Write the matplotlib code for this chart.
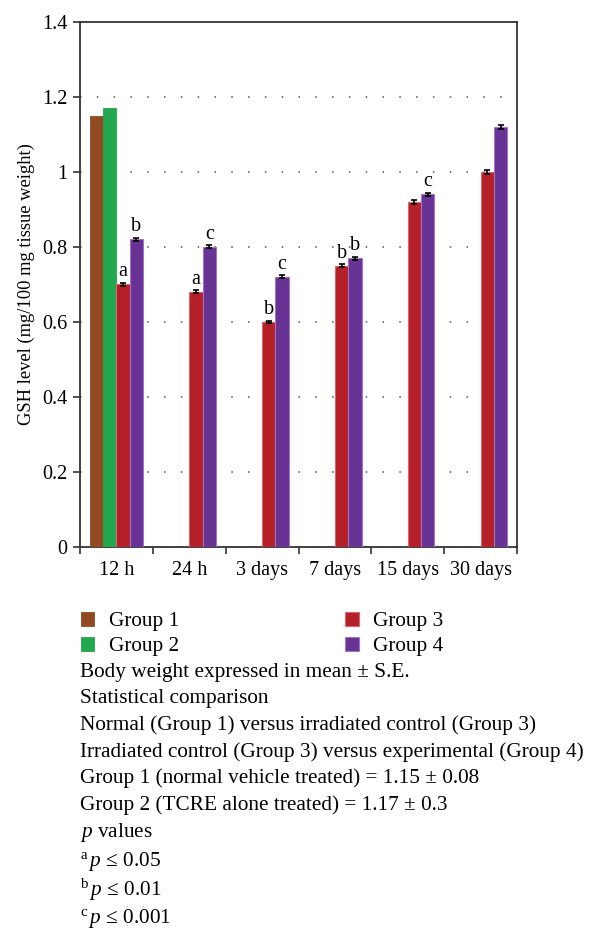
import numpy as np
import matplotlib
matplotlib.use("Agg")
import matplotlib.pyplot as plt

plt.rcParams['font.family'] = ['Liberation Serif', 'DejaVu Serif']
plt.rcParams['mathtext.fontset'] = 'custom'
plt.rcParams['mathtext.rm'] = 'Liberation Serif'
plt.rcParams['mathtext.it'] = 'Liberation Serif:italic'

# data
times = ['12 h', '24 h', '3 days', '7 days', '15 days', '30 days']
group1 = [1.15]          # only 12 h
group2 = [1.17]          # only 12 h
group3 = [0.70, 0.68, 0.60, 0.75, 0.92, 1.00]
group4 = [0.82, 0.80, 0.72, 0.77, 0.94, 1.12]
group3_se = [0.004, 0.004, 0.003, 0.004, 0.005, 0.005]
group4_se = [0.005, 0.004, 0.004, 0.004, 0.005, 0.006]
sig3 = ['a', 'a', 'b', 'b', '', '']
sig4 = ['b', 'c', 'c', 'b', 'c', '']

colors = ['#914A22', '#22A84E', '#B51F28', '#693295']
edges = ['#914A22', '#22A84E', '#D9666C', '#9C78C2']
labels = ['Group 1', 'Group 2', 'Group 3', 'Group 4']

W, H = 592, 930
fig = plt.figure(figsize=(W / 100, H / 100), dpi=100)
ax = fig.add_axes([80 / W, 1 - 547 / H, (517 - 80) / W, (547 - 22) / H])

x = np.arange(len(times))
w = 0.1826
b1 = ax.bar(x[:1] - 1.5 * w, group1, w, color=colors[0], edgecolor=edges[0], lw=0.6, zorder=3)
b2 = ax.bar(x[:1] - 0.5 * w, group2, w, color=colors[1], edgecolor=edges[1], lw=0.6, zorder=3)
b3 = ax.bar(x + 0.5 * w, group3, w, color=colors[2], edgecolor=edges[2], lw=0.8, zorder=3)
b4 = ax.bar(x + 1.5 * w, group4, w, color=colors[3], edgecolor=edges[3], lw=0.8, zorder=3)
ax.errorbar(x + 0.5 * w, group3, yerr=group3_se, fmt='none', ecolor='black',
            elinewidth=1.2, capsize=2.5, capthick=1.2, zorder=4)
ax.errorbar(x + 1.5 * w, group4, yerr=group4_se, fmt='none', ecolor='black',
            elinewidth=1.2, capsize=2.5, capthick=1.2, zorder=4)

for i in range(len(times)):
    if sig3[i]:
        ax.text(x[i] + 0.5 * w, group3[i] + group3_se[i] + 0.004, sig3[i],
                ha='center', va='bottom', fontsize=14.5)
    if sig4[i]:
        ax.text(x[i] + 1.5 * w, group4[i] + group4_se[i] + 0.004, sig4[i],
                ha='center', va='bottom', fontsize=14.5)

ax.set_xlim(-0.5, len(times) - 0.5)
ax.set_ylim(0, 1.4)
yt = [0, 0.2, 0.4, 0.6, 0.8, 1.0, 1.2, 1.4]
ax.set_yticks(yt)
ax.set_yticklabels(['0', '0.2', '0.4', '0.6', '0.8', '1', '1.2', '1.4'], fontsize=14.5)
ax.set_xticks(x)
ax.set_xticklabels(times, fontsize=14.5)
ax.set_xticks(np.arange(len(times) + 1) - 0.5, minor=True)
ax.tick_params(axis='x', which='major', length=0, pad=10)
ax.tick_params(axis='x', which='minor', length=5, width=1.2, direction='out', color='#333333')
ax.tick_params(axis='y', length=5, width=1.2, direction='out', color='#333333', pad=4)
ax.yaxis.grid(True, linestyle=(0, (1, 10)), color='#555555', lw=1.1, zorder=0)
for s in ax.spines.values():
    s.set_color('#333333')
    s.set_linewidth(1.3)
ax.set_ylabel('GSH level (mg/100 mg tissue weight)', fontsize=13.3, labelpad=5)

fig.legend([b1, b2, b3, b4], labels, ncol=2, loc='upper left',
           bbox_to_anchor=(72 / W, 1 - 603 / H), frameon=False, fontsize=15.3,
           handlelength=0.64, handleheight=0.64, handletextpad=0.7,
           columnspacing=7.8, labelspacing=0.26, borderaxespad=0)

lines = [
    'Body weight expressed in mean \u00b1 S.E.',
    'Statistical comparison',
    'Normal (Group 1) versus irradiated control (Group 3)',
    'Irradiated control (Group 3) versus experimental (Group 4)',
    'Group 1 (normal vehicle treated) = 1.15 \u00b1 0.08',
    'Group 2 (TCRE alone treated) = 1.17 \u00b1 0.3',
    r'$\mathit{p}$ values',
]
ys = [672, 698, 725, 752, 778, 805, 832]
for t, yp in zip(lines, ys):
    fig.text(80 / W, 1 - yp / H, t, fontsize=15.3, va='center', ha='left')

plabels = [r'$^{\mathrm{a}}\,\mathit{p}$ \u2264 0.05', r'$^{\mathrm{b}}\,\mathit{p}$ \u2264 0.01',
           r'$^{\mathrm{c}}\,\mathit{p}$ \u2264 0.001']
for t, yp in zip(plabels, [861, 890, 918]):
    fig.text(80 / W, 1 - yp / H, t.replace('\\u2264', '\u2264'), fontsize=15.3, va='center', ha='left')

fig.savefig('out.png', dpi=100)
